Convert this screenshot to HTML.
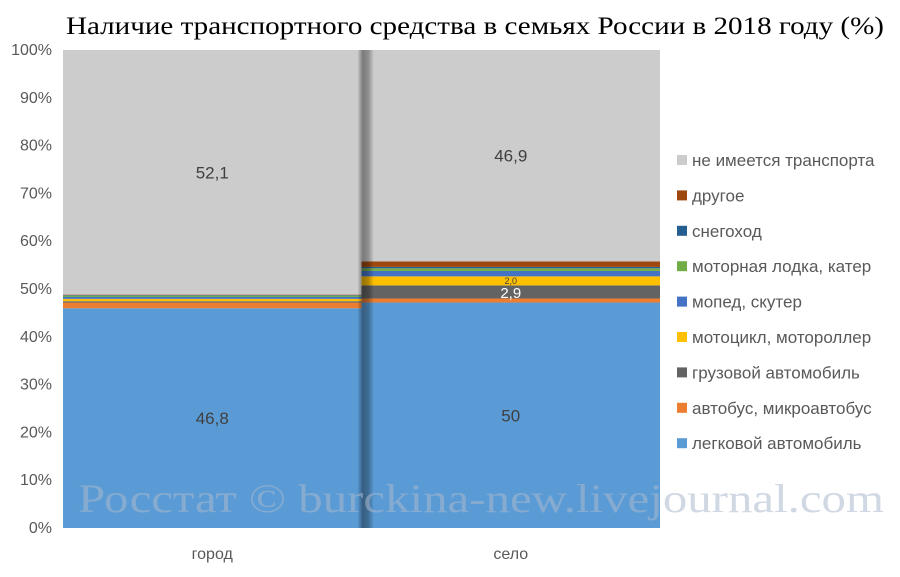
<!DOCTYPE html>
<html><head><meta charset="utf-8"><style>
body{margin:0;background:#fff;width:900px;height:572px;overflow:hidden;font-family:"Liberation Sans",sans-serif}
</style></head><body>
<svg width="900" height="572">
<text x="475" y="34" text-anchor="middle" textLength="818" lengthAdjust="spacingAndGlyphs" font-family="Liberation Serif,serif" font-size="25" fill="#000">Наличие транспортного средства в семьях России в 2018 году (%)</text>
<g id="yaxis"></g>
<g id="bars"></g>
<rect x="358" y="50" width="16" height="478" fill="url(#sh)"/>
<defs><linearGradient id="sh" x1="0" x2="1"><stop offset="0" stop-color="#000" stop-opacity="0.05"/><stop offset="0.3" stop-color="#000" stop-opacity="0.4"/><stop offset="0.65" stop-color="#000" stop-opacity="0.3"/><stop offset="1" stop-color="#000" stop-opacity="0"/></linearGradient></defs>
<g id="labels"></g>
<g id="legend"></g>
<text x="481" y="512" text-anchor="middle" textLength="806" lengthAdjust="spacingAndGlyphs" font-family="Liberation Serif,serif" font-size="40" fill="#aab8cc" fill-opacity="0.55">Росстат © burckina-new.livejournal.com</text>
</svg>
<script>
const categories=["город","село"];
const seriesNames=["легковой автомобиль","автобус, микроавтобус","грузовой автомобиль","мотоцикл, мотороллер","мопед, скутер","моторная лодка, катер","снегоход","другое","не имеется транспорта"];
const colors=["#5b9bd5","#ed7d31","#636363","#ffc000","#4472c4","#70ad47","#255e91","#9e480e","#cccccc"];
const cityValues=[46.8,1.2,0.3,0.5,0.4,0.3,0.1,0.1,52.1];
const villageValues=[50,0.9,2.9,2.0,1.2,0.6,0.3,1.2,46.9];
const yTicks=["0%","10%","20%","30%","40%","50%","60%","70%","80%","90%","100%"];
const NS="http://www.w3.org/2000/svg";
const top0=50,bot=528,left=63,right=660;
const y=p=>bot-(bot-top0)*p/100;
const bw=(right-left)/categories.length;
const bx=i=>left+i*bw;
function mk(t,a,p){const e=document.createElementNS(NS,t);for(const k in a)e.setAttribute(k,a[k]);p.appendChild(e);return e;}
const ya=document.getElementById('yaxis');
yTicks.forEach((t,i)=>{const e=mk('text',{x:52,y:y(i*10)+5,'text-anchor':'end','font-size':16,fill:'#595959'},ya);e.textContent=t;

});
const bars=document.getElementById('bars'),lab=document.getElementById('labels');
[cityValues,villageValues].forEach((vals,ci)=>{
 const tot=vals.reduce((a,b)=>a+b,0);let acc=0;
 vals.forEach((v,si)=>{const p0=acc/tot*100,p1=(acc+v)/tot*100;acc+=v;
  const r=mk('rect',{x:bx(ci),y:y(p1),width:bw,height:y(p0)-y(p1),fill:colors[si]},bars);
  
  
  let show=(si==0||si==8)||(ci==1&&(si==2||si==3));
  if(show){const t=mk('text',{x:bx(ci)+bw/2,y:y((p0+p1)/2)+(si==3?3:6),'text-anchor':'middle','font-size':si==3?9:(si==2?15:17),fill:si==2?'#fff':'#404040'},lab);
   t.textContent=String(v).replace('.',',');
   if(si==3)t.textContent='2,0';
   
   }
 });
 const xl=mk('text',{x:bx(ci)+bw/2,y:559,'text-anchor':'middle','font-size':16,fill:'#595959'},ya);xl.textContent=categories[ci];
 
 
});
const lg=document.getElementById('legend');
for(let i=8;i>=0;i--){const row=8-i,yy=160+row*35.4;
 const r=mk('rect',{x:677,y:yy-5,width:10,height:10,fill:colors[i]},lg);
 
 
 const t=mk('text',{x:692,y:yy+6,'font-size':17,fill:'#595959'},lg);t.textContent=seriesNames[i];
 
 }
</script>
</body></html>
